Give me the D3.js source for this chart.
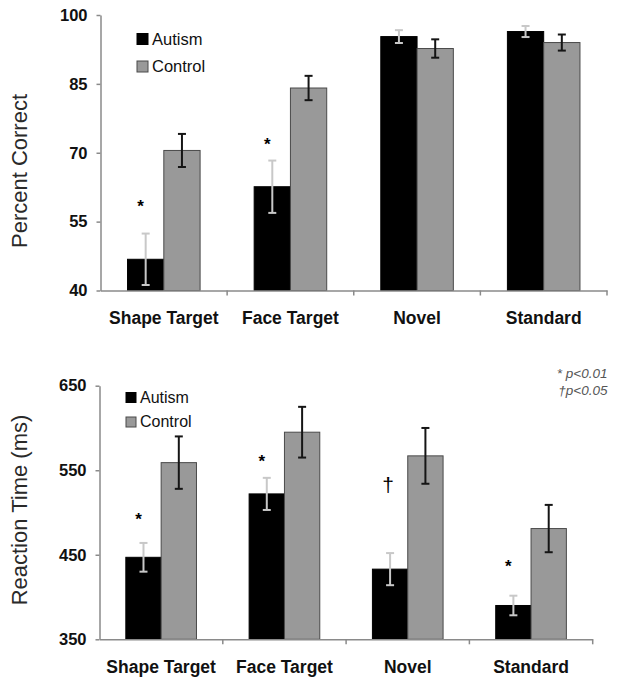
<!DOCTYPE html>
<html>
<head>
<meta charset="utf-8">
<script src="https://cdn.jsdelivr.net/npm/d3@7/dist/d3.min.js"></script>
<style>
  html, body { margin: 0; padding: 0; background: #fff; }
  svg { display: block; font-family: "Liberation Sans", Arial, sans-serif; }
</style>
</head>
<body>
<svg id="chart" width="619" height="678"></svg>
<script>
// ---------- data ----------
const categories = ["Shape Target", "Face Target", "Novel", "Standard"];
const groups = ["Autism", "Control"];

const accAutism     = [46.8, 62.6, 95.3, 96.4];
const accAutismErr  = [5.6, 5.7, 1.4, 1.2];
const accControl    = [70.5, 84.1, 92.7, 94.0];
const accControlErr = [3.6, 2.65, 2.0, 1.75];
const accTicks      = [40, 55, 70, 85, 100];
const accSig        = ["*", "*", "", ""];
const accSigLevel   = [59.3, 72.7, null, null];

const rtAutism      = [447, 522, 433, 390];
const rtAutismErr   = [17, 19, 19, 11.6];
const rtControl     = [559, 595, 567, 481];
const rtControlErr  = [31, 30, 33, 28];
const rtTicks       = [350, 450, 550, 650];
const rtSig         = ["*", "*", "\u2020", "*"];
const rtSigLevel    = [497, 566, 531, 442];

const pNotes = ["* p<0.01", "\u2020p<0.05"];

// ---------- drawing ----------
const svg = d3.select("#chart");
const BLACK = "#000", GREY = "#999", AXIS = "#8a8a8a";

function panel(opts) {
  const g = svg.append("g");
  const x = d3.scaleBand().domain(categories).range([opts.x0, opts.x1]);
  const bw = x.bandwidth();
  const gw = bw * 0.573;
  const x1 = d3.scaleBand().domain(groups).range([(bw - gw) / 2, (bw + gw) / 2]);
  const y = d3.scaleLinear().domain(opts.domain).range([opts.yBottom, opts.yTop]);

  const rows = categories.map((c, i) => ({
    c,
    vals: [
      { k: "Autism", v: opts.autism[i], e: opts.autismErr[i] },
      { k: "Control", v: opts.control[i], e: opts.controlErr[i] }
    ],
    sig: opts.sig[i], sigLevel: opts.sigLevel[i]
  }));

  // bars
  const cg = g.selectAll("g.cat").data(rows).join("g")
    .attr("transform", d => `translate(${x(d.c)},0)`);
  cg.selectAll("rect").data(d => d.vals).join("rect")
    .attr("x", d => x1(d.k))
    .attr("width", x1.bandwidth())
    .attr("y", d => y(d.v))
    .attr("height", d => y(opts.domain[0]) - y(d.v))
    .attr("fill", d => d.k === "Autism" ? BLACK : GREY)
    .attr("stroke", d => d.k === "Autism" ? BLACK : "#4a4a4a")
    .attr("stroke-width", 1);

  // error bars
  const eb = cg.selectAll("g.err").data(d => d.vals).join("g")
    .attr("stroke", d => d.k === "Autism" ? "#c8c8c8" : "#151515")
    .attr("stroke-width", 2);
  eb.append("line")
    .attr("x1", d => x1(d.k) + x1.bandwidth() / 2)
    .attr("x2", d => x1(d.k) + x1.bandwidth() / 2)
    .attr("y1", d => y(d.v + d.e)).attr("y2", d => y(d.v - d.e));
  eb.append("line")
    .attr("x1", d => x1(d.k) + x1.bandwidth() / 2 - 4)
    .attr("x2", d => x1(d.k) + x1.bandwidth() / 2 + 4)
    .attr("y1", d => y(d.v + d.e)).attr("y2", d => y(d.v + d.e));
  eb.append("line")
    .attr("x1", d => x1(d.k) + x1.bandwidth() / 2 - 4)
    .attr("x2", d => x1(d.k) + x1.bandwidth() / 2 + 4)
    .attr("y1", d => y(d.v - d.e)).attr("y2", d => y(d.v - d.e));

  // significance marks
  cg.filter(d => d.sig).append("text")
    .attr("x", d => x1("Autism") + x1.bandwidth() / 2 + (d.sig === "*" ? -5 : -2))
    .attr("y", d => y(d.sigLevel) + (d.sig === "*" ? 10 : 6))
    .attr("text-anchor", "middle")
    .attr("font-size", d => d.sig === "*" ? 17 : 21)
    .attr("font-weight", d => d.sig === "*" ? "bold" : "normal")
    .attr("fill", "#000")
    .text(d => d.sig);

  // y axis
  const ya = g.append("g").attr("transform", `translate(${opts.x0},0)`)
    .call(d3.axisLeft(y).tickValues(opts.ticks).tickSize(4).tickSizeOuter(0).tickPadding(9));
  ya.select(".domain").attr("stroke", AXIS).attr("stroke-width", 1.5);
  ya.selectAll(".tick line").attr("stroke", AXIS).attr("stroke-width", 1.5);
  ya.selectAll(".tick text")
    .attr("font-family", "'Liberation Sans', Arial, sans-serif")
    .attr("font-size", 16.5).attr("font-weight", "bold").attr("fill", "#111");

  // x axis (labels centred, ticks at category boundaries)
  const xa = g.append("g").attr("transform", `translate(0,${opts.yBottom})`)
    .call(d3.axisBottom(x).tickSize(0).tickSizeOuter(0));
  xa.select(".domain").attr("stroke", AXIS).attr("stroke-width", 1.5);
  xa.selectAll(".tick text")
    .attr("font-family", "'Liberation Sans', Arial, sans-serif")
    .attr("font-size", 17.5).attr("font-weight", "bold").attr("fill", "#111")
    .attr("y", 33.5).attr("dy", 0);
  xa.selectAll("line.bound").data(categories).join("line")
    .attr("class", "bound")
    .attr("x1", c => x(c) + bw).attr("x2", c => x(c) + bw)
    .attr("y1", 0).attr("y2", 5)
    .attr("stroke", AXIS).attr("stroke-width", 1.5);

  // y title
  g.append("text")
    .attr("transform", `translate(${opts.titleX},${opts.titleY}) rotate(-90)`)
    .attr("text-anchor", "middle")
    .attr("font-size", 22).attr("fill", "#2a2a2a")
    .text(opts.title);

  // legend
  const lg = g.append("g");
  groups.forEach((k, i) => {
    lg.append("rect")
      .attr("x", opts.legX).attr("y", opts.legY + i * opts.legGap - opts.legBox)
      .attr("width", opts.legBox).attr("height", opts.legBox)
      .attr("fill", k === "Autism" ? BLACK : GREY)
      .attr("stroke", k === "Autism" ? BLACK : "#4a4a4a").attr("stroke-width", 1);
    lg.append("text")
      .attr("x", opts.legX + opts.legBox + 4).attr("y", opts.legY + i * opts.legGap)
      .attr("font-size", opts.legFont).attr("fill", "#111")
      .text(k);
  });
  return g;
}

panel({
  x0: 100.5, x1: 607, yTop: 15, yBottom: 290.5, domain: [40, 100], ticks: accTicks,
  autism: accAutism, autismErr: accAutismErr, control: accControl, controlErr: accControlErr,
  sig: accSig, sigLevel: accSigLevel,
  title: "Percent Correct", titleX: 27, titleY: 171,
  legX: 137, legY: 44.5, legGap: 27.5, legBox: 11, legFont: 16.5
});

panel({
  x0: 99.5, x1: 592.7, yTop: 385.7, yBottom: 639.3, domain: [350, 650], ticks: rtTicks,
  autism: rtAutism, autismErr: rtAutismErr, control: rtControl, controlErr: rtControlErr,
  sig: rtSig, sigLevel: rtSigLevel,
  title: "Reaction Time (ms)", titleX: 27, titleY: 510,
  legX: 126, legY: 402.5, legGap: 24.5, legBox: 10, legFont: 16
});

// p-value note
svg.append("g").selectAll("text").data(pNotes).join("text")
  .attr("x", 607.5).attr("y", (d, i) => 378 + i * 16.5)
  .attr("text-anchor", "end")
  .attr("font-size", 13.5).attr("font-style", "italic").attr("fill", "#555")
  .text(d => d);
</script>
</body>
</html>
